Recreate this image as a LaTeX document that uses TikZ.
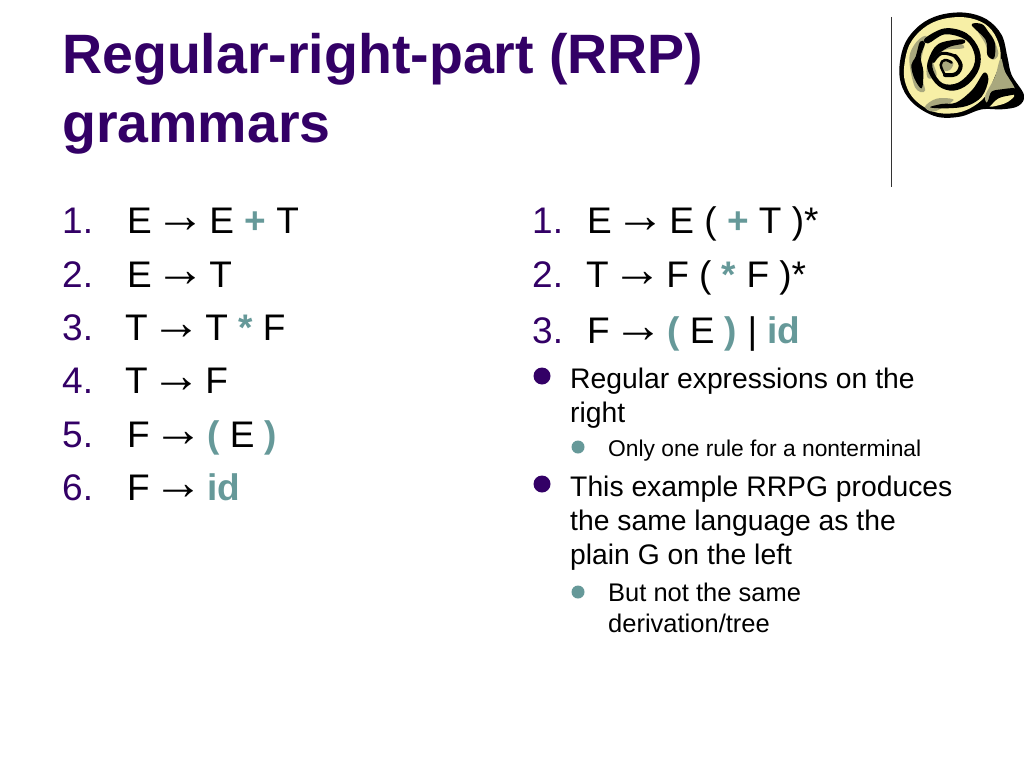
\documentclass[tikz,border=0pt]{standalone}
\usepackage{fontspec}
\setmainfont{Liberation Sans}
\newfontfamily\arrowfont{Liberation Serif}
\definecolor{ttl}{HTML}{330066}
\definecolor{teal2}{HTML}{669999}
\definecolor{cream}{HTML}{F7EFA6}
\definecolor{olive}{HTML}{A9A87E}
\newcommand{\ar}{\makebox[37pt][c]{\raisebox{0.5pt}{\fontsize{50}{50}\arrowfont →}}}
\newcommand{\tl}[1]{\textcolor{teal2}{\textbf{#1}}}
\tikzset{
  txt/.style={inner sep=0pt,anchor=base west,align=left},
  title/.style={txt,font=\fontsize{55.5}{55.5}\selectfont\bfseries,text=ttl},
  num/.style={txt,font=\fontsize{37}{37}\selectfont,text=ttl},
  rule/.style={txt,font=\fontsize{37}{37}\selectfont,text=black},
  body/.style={txt,font=\fontsize{28.3}{28.3}\selectfont,text=black},
  sub/.style={txt,font=\fontsize{22.8}{22.8}\selectfont,text=black},
  subb/.style={txt,font=\fontsize{25.5}{25.5}\selectfont,text=black},
  bul/.style={circle,fill=ttl,inner sep=0pt,minimum size=17pt},
  subbul/.style={circle,fill=teal2,inner sep=0pt,minimum size=13pt},
  band/.style={black,line cap=round,line join=round},
}
\begin{document}
\begin{tikzpicture}[x=1pt,y=-1pt]
\useasboundingbox (0,0) rectangle (1024,768);
\fill[white] (0,0) rectangle (1024,768);
\node[title] (t1) at (62,74) {Regular-right-part (RRP)};
\node[title] (t2) at (62,142) {grammars};
\coordinate (vt) at (891.5,17);
\coordinate (vb) at (891.5,187);
\draw[line width=1.3pt,black!80] (vt) -- (vb);
% left column
\node[num] (l1n) at (62,233) {1.};
\node[rule] (l1) at (127,233) {E \ar{} E \tl{+} T};
\node[num] (l2n) at (62,287) {2.};
\node[rule] (l2) at (127,287) {E \ar{} T};
\node[num] (l3n) at (62,340) {3.};
\node[rule] (l3) at (125,340) {T \ar{} T \tl{*} F};
\node[num] (l4n) at (62,393) {4.};
\node[rule] (l4) at (125,393) {T \ar{} F};
\node[num] (l5n) at (62,447) {5.};
\node[rule] (l5) at (127,447) {F \ar{} \tl{(} E \tl{)}};
\node[num] (l6n) at (62,500) {6.};
\node[rule] (l6) at (127,500) {F \ar{} \tl{id}};
% right column
\node[num] (r1n) at (532,233) {1.};
\node[rule] (r1) at (587,233) {E \ar{} E ( \tl{+} T )*};
\node[num] (r2n) at (532,287) {2.};
\node[rule] (r2) at (586,287) {T \ar{} F ( \tl{*} F )*};
\node[num] (r3n) at (532,343) {3.};
\node[rule] (r3) at (587,343) {F \ar{} \tl{(} E \tl{)} | \tl{id}};
\node[bul] (b1) at (542,376) {};
\node[body] (x1) at (570,388) {Regular expressions on the};
\node[body] (x2) at (570,422) {right};
\node[subbul] (s1) at (578,447) {};
\node[sub] (y1) at (608,456) {Only one rule for a nonterminal};
\node[bul] (b2) at (542,484) {};
\node[body] (x3) at (570,496) {This example RRPG produces};
\node[body] (x4) at (570,530) {the same language as the};
\node[body] (x5) at (570,564) {plain G on the left};
\node[subbul] (s2) at (578,592) {};
\node[subb] (y2) at (608,601) {But not the same};
\node[subb] (y3) at (608,632) {derivation/tree};
% scroll picture (coordinates: 3x zoom of the region at 870,0)
\begin{scope}[shift={(870,0)},x=0.3333pt,y=-0.3333pt]
\fill[black] plot[smooth cycle,tension=0.6] coordinates {(88,205)(105,130)(150,75)(210,45)(285,38)(350,58)(395,105)(412,170)(425,225)(462,285)(445,318)(395,328)(335,328)(270,350)(200,350)(135,315)(98,265)};
\fill[cream] plot[smooth cycle,tension=0.6] coordinates {(102,205)(118,135)(160,85)(215,58)(285,52)(345,72)(380,115)(392,175)(370,240)(345,290)(300,325)(250,340)(190,335)(135,300)(108,255)};
\fill[olive] plot[smooth cycle,tension=0.6] coordinates {(392,175)(405,215)(435,270)(400,280)(360,310)(345,290)(375,230)};
\fill[cream] plot[smooth cycle,tension=0.6] coordinates {(358,320)(385,295)(425,282)(432,290)(405,310)};
\fill[black] plot[smooth cycle,tension=0.6] coordinates {(345,322)(355,300)(365,275)(395,268)(435,265)(445,280)(425,285)(385,295)(358,320)};
\fill[olive] plot[smooth cycle,tension=0.6] coordinates {(118,175)(140,125)(170,108)(160,150)(150,210)(165,272)(135,262)};
\fill[olive] plot[smooth cycle,tension=0.6] coordinates {(165,320)(200,296)(250,298)(230,315)(190,335)};
\fill[olive] plot[smooth cycle,tension=0.6] coordinates {(320,85)(360,100)(385,160)(365,178)(345,130)};
\fill[olive] plot[smooth cycle,tension=0.6] coordinates {(170,205)(185,160)(225,130)(270,130)(280,145)(225,150)(190,180)(200,225)(175,235)};
\fill[olive] plot[smooth cycle,tension=0.6] coordinates {(215,195)(235,178)(250,190)(240,210)(222,212)};
% black spiral
\draw[band,line width=2.5pt] plot[smooth,tension=0.7] coordinates {(245,188)(225,180)(212,195)(225,225)};
\draw[band,line width=4pt] plot[smooth,tension=0.7] coordinates {(225,225)(258,222)(272,195)(255,168)};
\draw[band,line width=3pt] plot[smooth,tension=0.7] coordinates {(255,168)(215,160)(190,185)};
\fill[black] plot[smooth cycle,tension=0.6] coordinates {(165,115)(225,85)(290,100)(328,150)(328,205)(295,252)(250,272)(205,258)(175,215)(175,180)(205,132)(275,118)(282,130)(235,142)(192,175)(190,212)(218,250)(265,248)(306,208)(314,165)(288,120)(225,103)(175,130)};
\fill[black] plot[smooth cycle,tension=0.6] coordinates {(137,170)(150,125)(165,130)(152,170)(160,215)(155,265)(133,235)(124,195)};
\fill[black] plot[smooth cycle,tension=0.6] coordinates {(180,322)(215,312)(260,307)(308,268)(342,218)(355,240)(335,290)(290,318)(230,325)};
\fill[black] plot[smooth cycle,tension=0.6] coordinates {(305,75)(335,72)(355,95)(375,130)(372,175)(352,165)(347,120)};
\end{scope}
\end{tikzpicture}
\end{document}
